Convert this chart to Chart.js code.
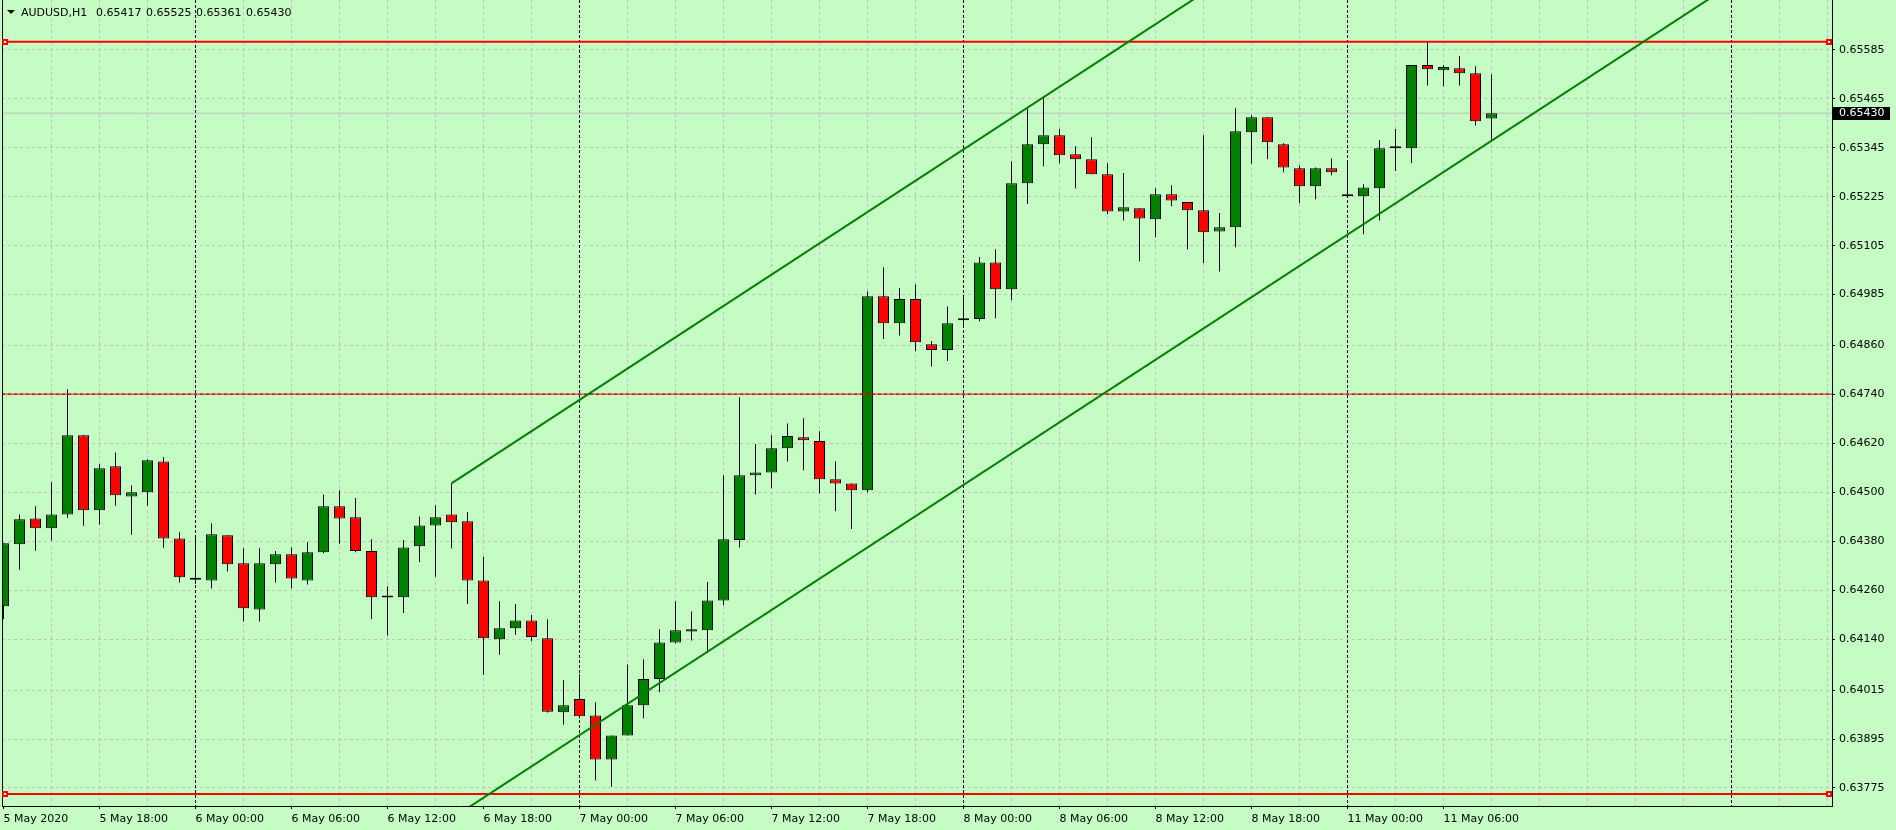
<!DOCTYPE html>
<html><head><meta charset="utf-8">
<script src="https://cdn.jsdelivr.net/npm/chart.js@4.4.1/dist/chart.umd.min.js"></script>
<style>html,body{margin:0;padding:0;background:#c4fcc4;overflow:hidden}canvas{display:block}</style>
</head><body>
<canvas id="c" width="1896" height="830"></canvas>
<script>
// ---------- data ----------
const symbolTitle = 'AUDUSD,H1';
const headerValues = ['0.65417', '0.65525', '0.65361', '0.65430'];

const opens = [0.64221,0.64373,0.64436,0.64412,0.64446,0.64640,0.64456,0.64564,0.64490,0.64500,
0.64576,0.64387,0.64286,0.64284,0.64395,0.64326,0.64213,0.64324,0.64348,0.64284,
0.64353,0.64466,0.64439,0.64356,0.64242,0.64243,0.64368,0.64419,0.64446,0.64429,
0.64284,0.64140,0.64167,0.64186,0.64142,0.63961,0.63993,0.63953,0.63845,0.63904,
0.63978,0.64042,0.64132,0.64159,0.64162,0.64235,0.64383,0.64542,0.64549,0.64608,
0.64635,0.64626,0.64532,0.64522,0.64505,0.64981,0.64915,0.64974,0.64863,0.64849,
0.64922,0.64925,0.65064,0.64998,0.65258,0.65354,0.65376,0.65329,0.65317,0.65280,
0.65189,0.65197,0.65170,0.65231,0.65212,0.65192,0.65140,0.65150,0.65383,0.65420,
0.65354,0.65295,0.65251,0.65295,0.65231,0.65226,0.65246,0.65344,0.65344,0.65548,
0.65535,0.65540,0.65528,0.65417];
const highs = [0.64375,0.64446,0.64466,0.64525,0.64753,0.64641,0.64569,0.64598,0.64517,0.64581,
0.64586,0.64402,0.64392,0.64424,0.64395,0.64363,0.64363,0.64356,0.64365,0.64378,
0.64495,0.64505,0.64486,0.64385,0.64270,0.64383,0.64441,0.64468,0.64522,0.64451,
0.64343,0.64233,0.64226,0.64199,0.64189,0.64039,0.64054,0.63985,0.63904,0.64078,
0.64091,0.64164,0.64233,0.64208,0.64280,0.64542,0.64733,0.64618,0.64640,0.64669,
0.64682,0.64650,0.64576,0.64522,0.64993,0.65052,0.65001,0.65010,0.64871,0.64956,
0.64983,0.65077,0.65096,0.65312,0.65442,0.65469,0.65391,0.65349,0.65371,0.65307,
0.65283,0.65197,0.65246,0.65253,0.65212,0.65376,0.65185,0.65442,0.65425,0.65420,
0.65356,0.65302,0.65297,0.65319,0.65310,0.65256,0.65364,0.65391,0.65548,0.65606,
0.65548,0.65570,0.65545,0.65525];
const lows = [0.64189,0.64310,0.64357,0.64382,0.64438,0.64418,0.64421,0.64467,0.64396,0.64467,
0.64364,0.64279,0.64275,0.64264,0.64306,0.64183,0.64183,0.64279,0.64264,0.64274,
0.64351,0.64374,0.64353,0.64189,0.64149,0.64204,0.64329,0.64293,0.64363,0.64226,
0.64053,0.64102,0.64151,0.64135,0.63960,0.63930,0.63946,0.63794,0.63778,0.63904,
0.63946,0.64010,0.64130,0.64137,0.64108,0.64223,0.64365,0.64495,0.64510,0.64576,
0.64554,0.64498,0.64454,0.64410,0.64500,0.64876,0.64885,0.64846,0.64809,0.64822,
0.64908,0.64920,0.64927,0.64971,0.65207,0.65300,0.65307,0.65246,0.65280,0.65182,
0.65167,0.65067,0.65126,0.65202,0.65096,0.65062,0.65042,0.65101,0.65306,0.65317,
0.65285,0.65209,0.65219,0.65278,0.65222,0.65133,0.65167,0.65288,0.65307,0.65498,
0.65496,0.65498,0.65400,0.65361];
const closes = [0.64375,0.64434,0.64412,0.64446,0.64640,0.64456,0.64559,0.64493,0.64500,0.64579,
0.64387,0.64292,0.64286,0.64397,0.64324,0.64216,0.64326,0.64348,0.64289,0.64353,
0.64466,0.64436,0.64356,0.64243,0.64242,0.64365,0.64419,0.64439,0.64427,0.64284,
0.64142,0.64167,0.64186,0.64145,0.63962,0.63978,0.63951,0.63845,0.63904,0.63978,
0.64042,0.64132,0.64162,0.64164,0.64235,0.64385,0.64542,0.64549,0.64608,0.64638,
0.64628,0.64532,0.64522,0.64505,0.64981,0.64915,0.64974,0.64868,0.64849,0.64915,
0.64927,0.65064,0.64998,0.65258,0.65354,0.65376,0.65327,0.65317,0.65280,0.65189,
0.65199,0.65172,0.65231,0.65216,0.65192,0.65138,0.65150,0.65386,0.65420,0.65359,
0.65297,0.65251,0.65295,0.65285,0.65226,0.65248,0.65344,0.65344,0.65548,0.65538,
0.65543,0.65528,0.65410,0.65430];

const xLabelIdx = [0,6,12,18,24,30,36,42,48,54,60,66,72,78,84,90];
const xTickLabels = ['5 May 2020','5 May 18:00','6 May 00:00','6 May 06:00','6 May 12:00','6 May 18:00',
  '7 May 00:00','7 May 06:00','7 May 12:00','7 May 18:00','8 May 00:00','8 May 06:00',
  '8 May 12:00','8 May 18:00','11 May 00:00','11 May 06:00'];
const daySeparators = [12,36,60,84,108];

const yTickValues = [0.65585,0.65465,0.65345,0.65225,0.65105,0.64985,0.64860,0.64740,
  0.64620,0.64500,0.64380,0.64260,0.64140,0.64015,0.63895,0.63775];
const yTickLabels = ['0.65585','0.65465','0.65345','0.65225','0.65105','0.64985','0.64860','0.64740',
  '0.64620','0.64500','0.64380','0.64260','0.64140','0.64015','0.63895','0.63775'];

const levelTop = 0.65605;
const levelMid = 0.64741;
const levelBottom = 0.63760;
const currentPrice = 0.65430;
const currentPriceLabel = '0.65430';
const channelUpper = [{x: 28, y: 0.64522}, {x: 115, y: 0.66749}];
const channelLower = [{x: 28, y: 0.63700}, {x: 115, y: 0.65925}];

// ---------- styling / layout ----------
const BG = '#c4fcc4';
const GRID = '#c0c0c0';
const BULL = '#008000';
const BEAR = '#ff0000';
const X_MIN = -0.09375, X_MAX = 114.28125;
const Y_MIN = 0.637308, Y_MAX = 0.657076;

const gridIdx = [];
for (let i = 0; i <= 114; i += 3) gridIdx.push(i);

const wicks = lows.map((l, i) => ({x: i, y: [l, highs[i]]}));
const bodies = opens.map((o, i) => ({x: i, y: [o, closes[i]]}));
const bodyColors = opens.map((o, i) => closes[i] > o ? BULL : (closes[i] < o ? BEAR : '#000000'));

const span = (v) => [{x: X_MIN, y: v}, {x: X_MAX, y: v}];

Chart.defaults.font.family = '"DejaVu Sans", Verdana, sans-serif';
Chart.defaults.font.size = 11;
Chart.defaults.color = '#000';

const mtPlugin = {
  id: 'mt',
  beforeDraw(chart) {
    const ctx = chart.ctx;
    ctx.save();
    ctx.fillStyle = BG;
    ctx.fillRect(0, 0, chart.width, chart.height);
    ctx.restore();
  },
  beforeDatasetsDraw(chart) {
    const {ctx, chartArea: a, scales: {x}} = chart;
    ctx.save();
    ctx.strokeStyle = '#000';
    ctx.lineWidth = 1;
    ctx.setLineDash([3, 2]);
    daySeparators.forEach(i => {
      const px = Math.round(x.getPixelForValue(i) - 0.5) + 0.5;
      if (px < a.left || px > a.right) return;
      ctx.beginPath();
      ctx.moveTo(px, a.top);
      ctx.lineTo(px, a.bottom);
      ctx.stroke();
    });
    ctx.restore();
  },
  afterDraw(chart) {
    const {ctx, chartArea: a, scales: {y}} = chart;
    ctx.save();
    // left frame line
    ctx.fillStyle = '#000';
    ctx.fillRect(Math.round(a.left), 0, 1, Math.round(a.bottom) + 1);
    // selection markers on horizontal levels
    [levelTop, levelBottom].forEach(v => {
      const py = Math.round(y.getPixelForValue(v));
      [Math.round(a.left) + 3, Math.round(a.right) - 3].forEach(cx => {
        ctx.fillStyle = '#ff0000';
        ctx.fillRect(cx - 3, py - 3, 6, 6);
        ctx.fillStyle = '#ffffff';
        ctx.fillRect(cx - 1, py - 1, 2, 2);
      });
    });
    // current price label
    const pp = Math.round(y.getPixelForValue(currentPrice));
    ctx.fillStyle = '#000';
    ctx.fillRect(Math.round(a.right) + 1, pp - 6, 57, 13);
    ctx.fillStyle = '#ffffff';
    ctx.font = '11px "DejaVu Sans"';
    ctx.textBaseline = 'middle';
    ctx.textAlign = 'left';
    ctx.fillText(currentPriceLabel, Math.round(a.right) + 7, pp + 0.5);
    // header
    ctx.fillStyle = '#000';
    ctx.beginPath();
    ctx.moveTo(7, 10); ctx.lineTo(15, 10); ctx.lineTo(11, 14); ctx.closePath();
    ctx.fill();
    ctx.fillText(symbolTitle, 21, 13.5);
    const hx = [96, 146, 196, 246];
    headerValues.forEach((t, i) => ctx.fillText(t, hx[i], 13.5));
    ctx.restore();
  }
};

const barCommon = {type: 'bar', grouped: false, barPercentage: 1, categoryPercentage: 1, inflateAmount: 0};

new Chart(document.getElementById('c'), {
  type: 'bar',
  data: {
    datasets: [
      {type: 'line', label: 'price', data: span(currentPrice), borderColor: GRID, borderWidth: 1,
        pointRadius: 0, order: 6, clip: 0},
      Object.assign({}, barCommon, {label: 'wicks', data: wicks, backgroundColor: '#000', borderWidth: 0,
        maxBarThickness: 1, order: 5}),
      Object.assign({}, barCommon, {label: 'bodies', data: bodies, backgroundColor: bodyColors,
        borderColor: '#000', borderWidth: 1, borderSkipped: false, maxBarThickness: 11,
        minBarLength: 2, order: 4}),
      {type: 'line', label: 'levelTop', data: span(levelTop), borderColor: '#ff0000', borderWidth: 2,
        pointRadius: 0, order: 3, clip: 0},
      {type: 'line', label: 'levelBottom', data: span(levelBottom), borderColor: '#ff0000', borderWidth: 2,
        pointRadius: 0, order: 3, clip: 0},
      {type: 'line', label: 'levelMid', data: span(levelMid), borderColor: '#ff0000', borderWidth: 1,
        pointRadius: 0, order: 3, clip: 0},
      {type: 'line', label: 'levelMidDot', data: span(levelMid), borderColor: '#b00000', borderWidth: 1,
        borderDash: [3, 3], pointRadius: 0, order: 2, clip: 0},
      {type: 'line', label: 'channelUpper', data: channelUpper, borderColor: '#008000', borderWidth: 2,
        pointRadius: 0, order: 1, clip: 0},
      {type: 'line', label: 'channelLower', data: channelLower, borderColor: '#008000', borderWidth: 2,
        pointRadius: 0, order: 1, clip: 0}
    ]
  },
  options: {
    responsive: false,
    animation: false,
    devicePixelRatio: 1,
    events: [],
    layout: {padding: {left: 2, top: 0, right: 0, bottom: 0}},
    plugins: {legend: {display: false}, tooltip: {enabled: false}, title: {display: false}},
    scales: {
      x: {
        type: 'linear', min: X_MIN, max: X_MAX, offset: false,
        afterBuildTicks: (axis) => { axis.ticks = gridIdx.map(v => ({value: v})); },
        afterFit: (s) => { s.height = 24; s.paddingLeft = 0; s.paddingRight = 0; s.paddingTop = 0; s.paddingBottom = 0; },
        grid: {
          offset: false, drawOnChartArea: true, lineWidth: 1,
          color: (c) => (c.tick && (c.tick.value === 0 || daySeparators.includes(c.tick.value))) ? 'rgba(0,0,0,0)' : GRID,
          tickColor: (c) => (c.tick && xLabelIdx.includes(c.tick.value)) ? '#000' : 'rgba(0,0,0,0)',
          tickLength: 3
        },
        border: {display: true, color: '#000', width: 1, dash: [3, 3]},
        ticks: {
          autoSkip: false, maxRotation: 0, minRotation: 0, align: 'start', padding: 4,
          callback: (v) => { const k = xLabelIdx.indexOf(v); return k >= 0 ? xTickLabels[k] : ''; }
        }
      },
      y: {
        type: 'linear', position: 'right', min: Y_MIN, max: Y_MAX,
        afterBuildTicks: (axis) => { axis.ticks = yTickValues.map(v => ({value: v})); },
        afterFit: (s) => { s.width = 64; s.paddingTop = 0; s.paddingBottom = 0; s.paddingLeft = 0; s.paddingRight = 0; },
        grid: {color: GRID, lineWidth: 1, tickColor: '#000', tickLength: 3},
        border: {display: true, color: '#000', width: 1, dash: [3, 3]},
        ticks: {
          autoSkip: false, padding: 4,
          callback: (v, i) => yTickLabels[i]
        }
      }
    }
  },
  plugins: [mtPlugin]
});
</script>
</body></html>
